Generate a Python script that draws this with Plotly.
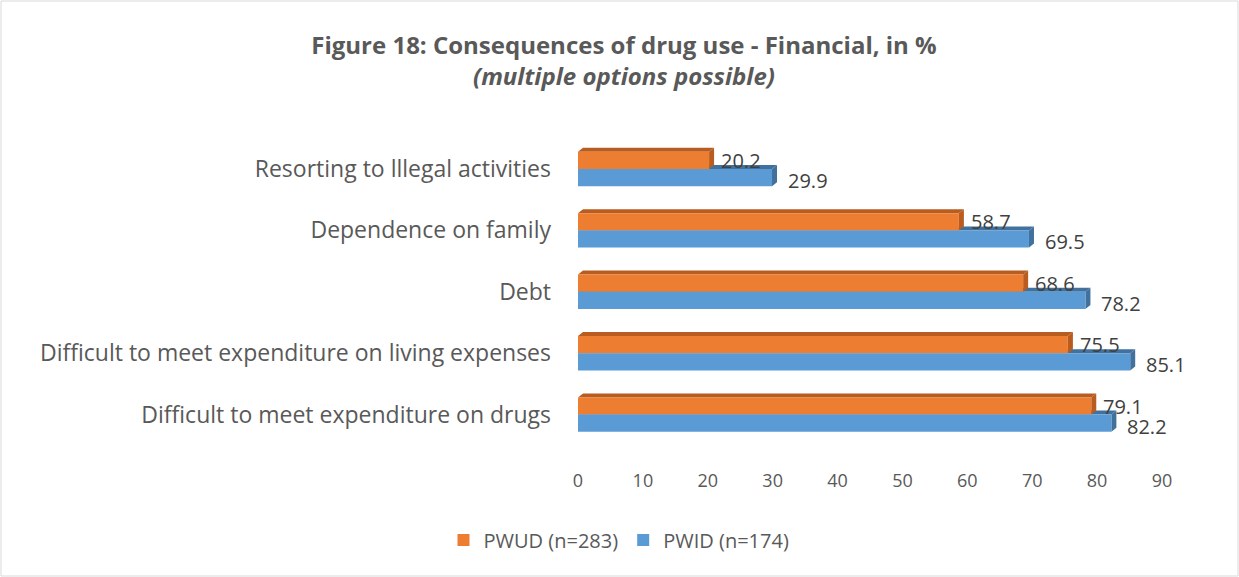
import plotly.graph_objects as go

categories = [
    "Difficult to meet expenditure on drugs",
    "Difficult to meet expenditure on living expenses",
    "Debt",
    "Dependence on family",
    "Resorting to lllegal activities",
]
pwud = [79.1, 75.5, 68.6, 58.7, 20.2]
pwid = [82.2, 85.1, 78.2, 69.5, 29.9]
series_names = ["PWUD (n=283)", "PWID (n=174)"]
x_ticks = [0, 10, 20, 30, 40, 50, 60, 70, 80, 90]

W, H = 1239, 577
ML, MR, MT, MB = 578, 77, 134, 136
PW, PH = W - ML - MR, H - MT - MB

FONT = "Open Sans"
TXT = "#404040"
AX = "#595959"
ORANGE, ORANGE_D = "#ED7D31", "#B85C1F"
BLUE, BLUE_D = "#5B9BD5", "#41719C"

bw = 0.28          # bar thickness (y units)
dx = 5 / (PW / 90)  # depth in x units (5 px)
dy = 4 / (PH / 5)   # depth in y units (4 px)

ypos = list(range(len(categories)))

fig = go.Figure()
fig.add_trace(go.Bar(
    y=ypos, x=pwud, orientation="h", name=series_names[0],
    marker=dict(color=ORANGE, line=dict(width=0)), width=bw, offset=0,
))
fig.add_trace(go.Bar(
    y=ypos, x=pwid, orientation="h", name=series_names[1],
    marker=dict(color=BLUE, line=dict(width=0)), width=bw, offset=-bw,
))

shapes = []
def depth(v, y0, y1, col):
    shapes.append(dict(type="path", layer="below", line=dict(width=0), fillcolor=col,
                       path=f"M 0,{y1} L {v},{y1} L {v+dx},{y1+dy} L {dx},{y1+dy} Z"))
    shapes.append(dict(type="path", layer="below", line=dict(width=0), fillcolor=col,
                       path=f"M {v},{y0} L {v},{y1} L {v+dx},{y1+dy} L {v+dx},{y0+dy} Z"))

for i, (a, b) in enumerate(zip(pwud, pwid)):
    depth(b, i - bw, i, BLUE_D)
    depth(a, i, i + bw, ORANGE_D)

annotations = []
for i, (a, b) in enumerate(zip(pwud, pwid)):
    annotations.append(dict(x=a, y=i + bw / 2, xref="x", yref="y", text=f"{a:.1f}",
                            showarrow=False, xanchor="left", xshift=10, yshift=0,
                            font=dict(family=FONT, size=20, color=TXT)))
    annotations.append(dict(x=b, y=i - bw / 2, xref="x", yref="y", text=f"{b:.1f}",
                            showarrow=False, xanchor="left", xshift=14, yshift=-3,
                            font=dict(family=FONT, size=20, color=TXT)))

shapes.append(dict(type="rect", xref="paper", yref="paper",
                   x0=-(ML - 1) / PW, x1=(PW + MR - 1) / PW,
                   y0=-(MB - 1) / PH, y1=(PH + MT - 1) / PH,
                   line=dict(color="#D9D9D9", width=1), fillcolor="rgba(0,0,0,0)", layer="above"))

fig.update_layout(
    width=W, height=H,
    margin=dict(l=ML, r=MR, t=MT, b=MB, autoexpand=False),
    paper_bgcolor="white", plot_bgcolor="white",
    barmode="overlay",
    title=dict(
        text="<b>Figure 18: Consequences of drug use - Financial, in %</b><br><b><i>(multiple options possible)</i></b>",
        x=624 / W, xanchor="center", xref="container",
        y=1 - 54 / H, yanchor="top", yref="container",
        font=dict(family=FONT, size=24, color=AX),
    ),
    xaxis=dict(range=[0, 90], tickvals=x_ticks, showgrid=False, zeroline=False,
               showline=False, ticks="", ticklabelstandoff=27, automargin=False,
               tickfont=dict(family=FONT, size=18, color=AX)),
    yaxis=dict(range=[-0.43, 4.57], tickvals=ypos, ticktext=categories,
               showgrid=False, zeroline=False, showline=False, ticks="",
               ticklabelstandoff=26, automargin=False,
               tickfont=dict(family=FONT, size=23, color=AX)),
    legend=dict(orientation="h", xref="container", yref="container",
                x=619 / W, xanchor="center", y=1 - 540 / H, yanchor="middle",
                font=dict(family=FONT, size=20, color=AX), traceorder="normal",
                itemsizing="constant", itemwidth=30),
    shapes=shapes,
    annotations=annotations,
    showlegend=True,
)

fig.write_html("out.html", config={"displayModeBar": False},
               post_script="document.body.style.margin='0';")
